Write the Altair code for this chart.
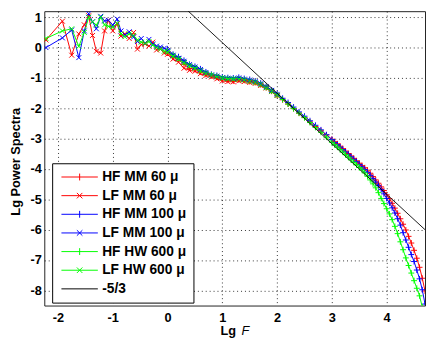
import altair as alt
import pandas as pd

# ---------------- data ----------------
SERIES = ["HF MM 60 μ", "LF MM 60 μ", "HF MM 100 μ", "LF MM 100 μ",
          "HF HW 600 μ", "LF HW 600 μ", "-5/3"]
COLORS = ["#ff0000", "#ff0000", "#0000ff", "#0000ff", "#00ff00", "#00ff00", "#000000"]

X_TICKS = [-2, -1, 0, 1, 2, 3, 4]
Y_TICKS = [-8, -7, -6, -5, -4, -3, -2, -1, 0, 1]

# high-frequency grid (Lg F)
HF_F = [0.0, 0.1, 0.2, 0.3, 0.4, 0.5, 0.6, 0.7, 0.8, 0.9, 1.0, 1.1, 1.2, 1.3, 1.4, 1.5,
        1.6, 1.7, 1.8, 1.9, 2.0, 2.1, 2.2, 2.3, 2.4, 2.5, 2.6, 2.7, 2.8, 2.9, 3.0,
        3.05, 3.10, 3.15, 3.20, 3.25, 3.30, 3.35, 3.40, 3.45, 3.50, 3.55, 3.60, 3.65,
        3.70, 3.75, 3.80, 3.85, 3.90, 3.95, 4.00, 4.05, 4.10, 4.15, 4.20, 4.25, 4.30,
        4.35, 4.40, 4.45, 4.50, 4.55, 4.60, 4.65, 4.70]

HF_MM60 = [-0.18, -0.32, -0.40, -0.55, -0.68, -0.72, -0.80, -0.88, -0.93, -0.98, -1.05,
           -1.08, -1.10, -1.06, -1.08, -1.12, -1.15, -1.22, -1.32, -1.44, -1.57, -1.72,
           -1.86, -2.01, -2.16, -2.30, -2.45, -2.60, -2.74, -2.88, -3.02,
           -3.10, -3.17, -3.25, -3.33, -3.41, -3.49, -3.57, -3.65, -3.73, -3.81, -3.89,
           -3.96, -4.04, -4.14, -4.25, -4.36, -4.47, -4.59, -4.71, -4.85, -4.98, -5.13,
           -5.29, -5.46, -5.64, -5.82, -6.01, -6.22, -6.44, -6.68, -6.94, -7.24, -7.60, -8.02]

HF_MM100 = [-0.05, -0.22, -0.30, -0.42, -0.55, -0.62, -0.70, -0.80, -0.88, -0.92, -0.97,
            -0.99, -1.00, -0.98, -1.02, -1.05, -1.10, -1.17, -1.28, -1.40, -1.52, -1.67,
            -1.81, -1.96, -2.12, -2.26, -2.41, -2.56, -2.71, -2.87, -3.03,
            -3.13, -3.20, -3.28, -3.36, -3.44, -3.52, -3.60, -3.68, -3.76, -3.85, -3.93,
            -4.02, -4.11, -4.21, -4.32, -4.43, -4.55, -4.68, -4.82, -4.97, -5.12, -5.28,
            -5.45, -5.64, -5.85, -6.10, -6.34, -6.58, -6.82, -7.05, -7.33, -7.62, -7.98, -8.45]

HF_HW600 = [-0.12, -0.25, -0.36, -0.48, -0.58, -0.66, -0.76, -0.84, -0.90, -0.95, -1.00,
            -1.02, -1.03, -1.03, -1.06, -1.10, -1.14, -1.21, -1.31, -1.43, -1.56, -1.71,
            -1.86, -2.01, -2.16, -2.31, -2.47, -2.63, -2.79, -2.95, -3.12,
            -3.20, -3.28, -3.36, -3.44, -3.53, -3.61, -3.70, -3.78, -3.86, -3.95, -4.03,
            -4.13, -4.24, -4.36, -4.49, -4.62, -4.78, -4.97, -5.14, -5.31, -5.48, -5.67,
            -5.89, -6.13, -6.40, -6.66, -6.93, -7.18, -7.43, -7.68, -7.93, -8.18, -8.55, -9.00]

# low-frequency grid (Lg F)
LF_F = [-2.22, -1.92, -1.75, -1.62, -1.52, -1.44, -1.37, -1.30, -1.22, -1.15, -1.08,
        -1.00, -0.92, -0.85, -0.78, -0.70, -0.62, -0.55, -0.48, -0.41, -0.34, -0.27,
        -0.20, -0.13, -0.06, 0.0, 0.1, 0.2, 0.3, 0.4, 0.5, 0.6, 0.7, 0.8, 0.9, 1.0,
        1.1, 1.2, 1.3, 1.4, 1.5, 1.6, 1.7, 1.8, 1.9, 2.0]

LF_MM60 = [0.25, 0.87, -0.25, 0.45, 0.75, 1.05, 0.40, -0.12, -0.18, 0.55, 0.90, 0.55,
           0.78, 0.38, 0.45, 0.30, 0.50, -0.05, 0.10, 0.12, 0.05, 0.18, -0.08, -0.05, -0.18,
           -0.22, -0.38, -0.48, -0.68, -0.75, -0.78, -0.86, -0.92, -0.97, -1.03, -1.10,
           -1.12, -1.13, -1.10, -1.12, -1.15, -1.18, -1.25, -1.33, -1.45, -1.58]

LF_MM100 = [0.0, 0.32, 0.58, -0.33, 0.55, 1.12, 0.85, 0.62, 1.03, 0.88, 0.90, 0.74,
            0.94, 0.55, 0.42, 0.52, 0.35, 0.20, 0.30, 0.15, 0.27, 0.12, 0.05, 0.02, -0.02,
            -0.10, -0.25, -0.35, -0.45, -0.56, -0.64, -0.72, -0.82, -0.90, -0.94, -0.99,
            -1.01, -1.02, -1.00, -1.04, -1.07, -1.12, -1.19, -1.29, -1.41, -1.54]

LF_HW600 = [0.30, 0.55, 0.62, 0.04, 0.50, 1.00, 0.85, 0.74, 1.00, 0.75, 0.70, 0.68,
            0.80, 0.45, 0.36, 0.45, 0.40, 0.25, 0.18, 0.14, 0.20, 0.08, 0.0, -0.05, -0.12,
            -0.15, -0.28, -0.38, -0.50, -0.60, -0.68, -0.77, -0.85, -0.91, -0.96, -1.01,
            -1.03, -1.04, -1.04, -1.07, -1.11, -1.15, -1.22, -1.32, -1.44, -1.57]

# reference slope -5/3 line
SLOPE_F = [0.0, 4.7]
SLOPE_P = [1.83, -6.0]

# ---------------- table ----------------
parts = []


def add(name, kind, fs, ps):
    assert len(fs) == len(ps), name
    parts.append(pd.DataFrame({"series": name, "kind": kind, "F": fs, "P": ps,
                               "i": list(range(len(fs)))}))


add(SERIES[0], "HF", HF_F, HF_MM60)
add(SERIES[1], "LF", LF_F, LF_MM60)
add(SERIES[2], "HF", HF_F, HF_MM100)
add(SERIES[3], "LF", LF_F, LF_MM100)
add(SERIES[4], "HF", HF_F, HF_HW600)
add(SERIES[5], "LF", LF_F, LF_HW600)
df = pd.concat(parts, ignore_index=True)
df_line = pd.DataFrame({"series": SERIES[6], "kind": "L", "F": SLOPE_F, "P": SLOPE_P,
                        "i": [0, 1]})
df_all = pd.concat([df, df_line], ignore_index=True)

# ---------------- styling ----------------
FONT = "Liberation Sans"
PLUS = "M-1,0L1,0M0,-1L0,1"
CROSS = "M-1,-1L1,1M-1,1L1,-1"
LEG_HF = "M-5.3,0L5.3,0M0,-1L0,1"
LEG_LF = "M-5.3,0L5.3,0M-0.8,-0.8L0.8,0.8M-0.8,0.8L0.8,-0.8"
LEG_LINE = "M-5.3,0L5.3,0"
LEG_SHAPES = [LEG_HF, LEG_LF, LEG_HF, LEG_LF, LEG_HF, LEG_LF, LEG_LINE]

LABEL_EXPR = "datum.value < 0 ? '-' + abs(datum.value) : '' + datum.value"

x_enc = alt.X("F:Q",
              scale=alt.Scale(domain=[-2.25, 4.7], nice=False, zero=False),
              axis=alt.Axis(values=X_TICKS, labelExpr=LABEL_EXPR, title="Lg",
                            titleX=187, titleY=30, titleAlign="center",
                            titleBaseline="alphabetic", titleFont=FONT, titleFontSize=13,
                            titleFontWeight="bold", titleColor="#000",
                            labelFont=FONT, labelFontSize=13, labelFontWeight="bold",
                            labelColor="#000", labelPadding=6, ticks=False, domain=False,
                            grid=True, gridDash=[1, 3], gridColor="#000",
                            gridOpacity=0.8))
y_enc = alt.Y("P:Q",
              scale=alt.Scale(domain=[-8.5, 1.2], nice=False, zero=False),
              axis=alt.Axis(values=Y_TICKS, labelExpr=LABEL_EXPR, title="Lg Power Spectra",
                            titleAngle=270, titleX=-25, titleY=153, titleAlign="center",
                            titleBaseline="alphabetic", titleFont=FONT, titleFontSize=13,
                            titleFontWeight="bold", titleColor="#000",
                            labelFont=FONT, labelFontSize=13, labelFontWeight="bold",
                            labelColor="#000", labelPadding=3, ticks=False, domain=False,
                            grid=True, gridDash=[1, 3], gridColor="#000",
                            gridOpacity=0.8))

legend = alt.Legend(title=None, orient="none", legendX=8, legendY=155,
                    direction="vertical", strokeColor="#000", fillColor="#fff",
                    padding=7, symbolSize=49, symbolStrokeWidth=1, symbolOffset=14,
                    labelOffset=16, labelFont=FONT, labelFontSize=14,
                    labelFontWeight="bold", labelColor="#000", rowPadding=5,
                    labelLimit=300)

color_scale = alt.Scale(domain=SERIES, range=COLORS)
color_enc = alt.Color("series:N", scale=color_scale, legend=legend)
shape_enc = alt.Shape("series:N", scale=alt.Scale(domain=SERIES, range=LEG_SHAPES),
                      legend=legend)

base = alt.Chart(df_all)

# legend-only layer (draws nothing; provides colour + symbol legend)
legend_layer = base.transform_filter("false").mark_point(
    filled=False, strokeWidth=1, opacity=1
).encode(x=x_enc, y=y_enc, color=color_enc, shape=shape_enc)

lines = base.transform_filter(alt.datum.kind != "L").mark_line(
    strokeWidth=1, clip=True
).encode(x=x_enc, y=y_enc, color=color_enc, order=alt.Order("i:Q"))

hf_pts = base.transform_filter(alt.datum.kind == "HF").mark_point(
    shape=PLUS, size=36, filled=False, strokeWidth=1, opacity=1, clip=True
).encode(x=x_enc, y=y_enc, color=color_enc)

lf_pts = base.transform_filter(alt.datum.kind == "LF").mark_point(
    shape=CROSS, size=25, filled=False, strokeWidth=1, opacity=1, clip=True
).encode(x=x_enc, y=y_enc, color=color_enc)

slope = base.transform_filter(alt.datum.kind == "L").mark_line(
    strokeWidth=0.9, clip=True
).encode(x=x_enc, y=y_enc, color=color_enc, order=alt.Order("i:Q"))

f_text = alt.Chart(pd.DataFrame({"t": ["F"]})).mark_text(
    font=FONT, fontSize=13, fontStyle="italic", align="left", baseline="alphabetic",
    color="#000"
).encode(text="t:N", x=alt.value(201), y=alt.value(330))

chart = alt.layer(legend_layer, lines, hf_pts, lf_pts, slope, f_text).properties(
    width=388, height=300,
    autosize=alt.AutoSizeParams(type="none"),
    padding={"left": 37, "top": 0, "right": 1, "bottom": 39},
    background="#ffffff",
).configure_view(stroke="#222", strokeWidth=1)

chart.save("out.html", embed_options={"renderer": "svg", "actions": False})
